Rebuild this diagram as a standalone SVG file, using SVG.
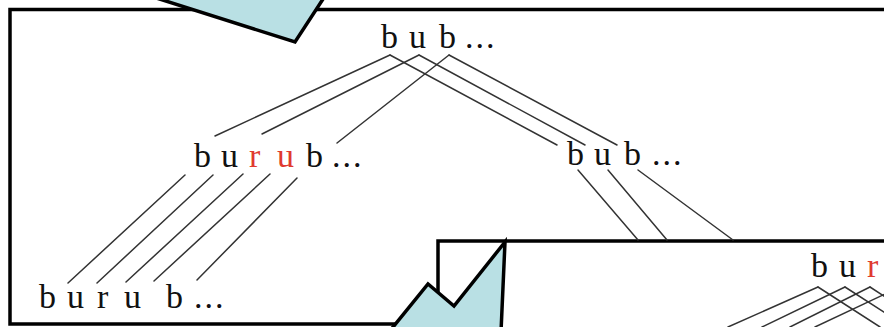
<svg xmlns="http://www.w3.org/2000/svg" width="884" height="327" viewBox="0 0 884 327">
<style>
.frame{fill:#fff;stroke:#000;stroke-width:3.5}
.tail{fill:#b9e0e4;stroke:#000;stroke-width:3.5;stroke-linejoin:miter}
.c{stroke:#333;stroke-width:1.5;fill:none;stroke-linecap:round}
text{font-family:"Liberation Serif","Times New Roman",serif;font-size:34px;fill:#111}
.r{fill:#e03a2f}
.d{letter-spacing:2px}
</style>
<rect class="frame" x="10" y="9.5" width="950" height="314.5"/>
<rect class="frame" x="438" y="241" width="500" height="120"/>
<g id="connectors">
<line class="c" x1="390" y1="55" x2="215" y2="136"/>
<line class="c" x1="419" y1="55" x2="262" y2="134"/>
<line class="c" x1="449" y1="55" x2="337" y2="143"/>
<line class="c" x1="390" y1="55" x2="557" y2="145"/>
<line class="c" x1="419" y1="55" x2="585" y2="145"/>
<line class="c" x1="449" y1="55" x2="617" y2="145"/>
<line class="c" x1="185" y1="175" x2="68" y2="283"/>
<line class="c" x1="213" y1="175" x2="97" y2="283"/>
<line class="c" x1="243" y1="174" x2="126" y2="282"/>
<line class="c" x1="270" y1="174" x2="154" y2="281"/>
<line class="c" x1="297" y1="178" x2="197" y2="280"/>
<line class="c" x1="578" y1="170" x2="638" y2="240"/>
<line class="c" x1="608" y1="170" x2="667" y2="240"/>
<line class="c" x1="638" y1="170" x2="733" y2="240"/>
<line class="c" x1="818" y1="287" x2="728" y2="327"/>
<line class="c" x1="845" y1="287" x2="762" y2="327"/>
<line class="c" x1="870" y1="287" x2="790" y2="327"/>
<line class="c" x1="900" y1="287" x2="815" y2="327"/>
<line class="c" x1="818" y1="287" x2="880" y2="327"/>
<line class="c" x1="845" y1="287" x2="907" y2="327"/>
<line class="c" x1="870" y1="287" x2="932" y2="327"/>
</g>
<g id="n-top">
<text y="48"><tspan x="381">b</tspan><tspan x="409">u</tspan><tspan x="439">b</tspan><tspan class="d" x="465">...</tspan></text>
</g>
<g id="n-left">
<text y="167"><tspan x="194">b</tspan><tspan x="221">u</tspan><tspan class="r" x="249">r</tspan><tspan class="r" x="277">u</tspan><tspan x="306">b</tspan><tspan class="d" x="332">...</tspan></text>
</g>
<g id="n-right">
<text y="165"><tspan x="567">b</tspan><tspan x="594">u</tspan><tspan x="624">b</tspan><tspan class="d" x="652">...</tspan></text>
</g>
<g id="n-bottom-left">
<text y="308"><tspan x="39">b</tspan><tspan x="67">u</tspan><tspan x="97">r</tspan><tspan x="124">u</tspan><tspan x="166">b</tspan><tspan class="d" x="194">...</tspan></text>
</g>
<g id="n-bottom-right">
<text y="277"><tspan x="811">b</tspan><tspan x="839">u</tspan><tspan class="r" x="867">r</tspan></text>
</g>
<polygon class="tail" points="150,-4 295,42 325,-4"/>
<polygon class="tail" points="389,332 428,284 454,306 505,242 501,332"/>
</svg>
